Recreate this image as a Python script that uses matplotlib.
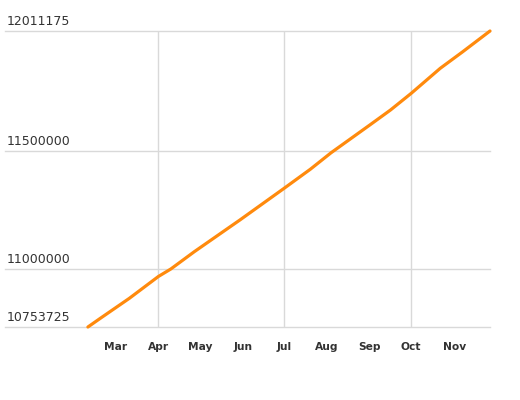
import matplotlib
matplotlib.use("Agg")
import matplotlib.pyplot as plt
import numpy as np

# Data
dates = ["2019-02-09", "2019-02-18", "2019-03-11", "2019-04-01", "2019-04-10",
         "2019-04-27", "2019-05-23", "2019-05-30", "2019-07-01", "2019-07-20",
         "2019-08-04", "2019-09-01", "2019-09-16", "2019-10-01", "2019-10-22",
         "2019-11-07", "2019-11-27"]
values = [10753725, 10790700, 10875600, 10968300, 11000100,
          11073600, 11179800, 11208300, 11342900, 11424000,
          11494000, 11611800, 11675600, 11746500, 11852700,
          11921900, 12011175]
y_ticks = [10753725, 11000000, 11500000, 12011175]
month_ticks = ["2019-03-01", "2019-04-01", "2019-05-01", "2019-06-01", "2019-07-01",
               "2019-08-01", "2019-09-01", "2019-10-01", "2019-11-01"]
month_labels = ["Mar", "Apr", "May", "Jun", "Jul", "Aug", "Sep", "Oct", "Nov"]
grid_months = ["2019-04-01", "2019-07-01", "2019-10-01"]
x_start = "2018-12-11"

d = np.array(dates, dtype="datetime64[D]")
fig = plt.figure(figsize=(5.2, 4.0), dpi=100)
ax = fig.add_axes([5/520, (400-327)/400, (490-5)/520, (327-31)/400])

grid_color = "#d9d9d9"
for v in y_ticks:
    ax.axhline(v, color=grid_color, lw=1.0, zorder=1, clip_on=False)
for g in np.array(grid_months, dtype="datetime64[D]"):
    ax.axvline(g, color=grid_color, lw=1.0, zorder=1)

ax.plot(d, values, color="#ff8a0d", lw=2.3, solid_capstyle="round",
        solid_joinstyle="round", zorder=3, clip_on=False)

ax.set_xlim(np.datetime64(x_start), d[-1])
ax.set_ylim(min(y_ticks), max(y_ticks))

for s in ax.spines.values():
    s.set_visible(False)

ax.set_xticks(np.array(month_ticks, dtype="datetime64[D]"))
ax.set_xticklabels(month_labels, fontsize=7.7, fontweight="bold", color="#333333")
ax.tick_params(axis="x", length=0, pad=11)
ax.set_yticks([])

for v in y_ticks:
    ax.annotate(str(v), xy=(0, v), xycoords=ax.get_yaxis_transform(),
                xytext=(2, 6), textcoords="offset pixels",
                ha="left", va="baseline", fontsize=9, color="#333333")

fig.savefig("out.png", dpi=100)
